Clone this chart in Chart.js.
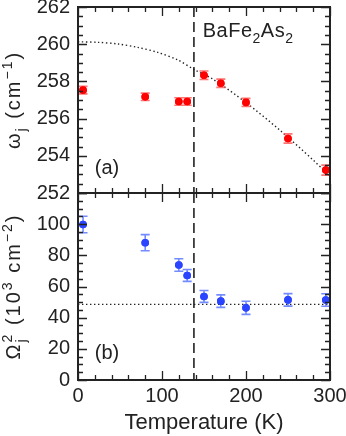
<!DOCTYPE html>
<html>
<head>
<meta charset="utf-8">
<script src="https://cdn.jsdelivr.net/npm/chart.js@4/dist/chart.umd.min.js"></script>
<style>
  html, body { margin: 0; padding: 0; background: #fff; }
  #wrap { position: relative; width: 346px; height: 436px; }
  canvas { position: absolute; left: 0; top: 0; }
</style>
</head>
<body>
<div id="wrap">
  <canvas id="cTop" width="346" height="436"></canvas>
  <canvas id="cBot" width="346" height="436"></canvas>
</div>
<script>
// ---------- data ----------
const temperatures = [6, 80, 120, 130, 150, 170, 200, 250, 295];
const omegaJ      = [257.53, 257.17, 256.92, 256.92, 258.33, 257.90, 256.87, 254.93, 253.23];
const omegaJErr   = [0.20, 0.20, 0.20, 0.20, 0.23, 0.22, 0.22, 0.25, 0.27];
const omega2J     = [99.8, 88.1, 73.8, 67.1, 53.6, 50.6, 46.3, 51.4, 51.3];
const omega2JErr  = [5.3, 5.2, 4.0, 3.8, 3.8, 4.0, 4.2, 4.0, 4.0];
const fitT        = [0, 24, 48, 71, 95, 119, 139, 161, 200, 240, 280, 300];
const fitOmega    = [260.13, 260.10, 260.01, 259.83, 259.56, 259.15, 258.62, 258.11, 256.86, 255.39, 253.77, 252.90];
const refT        = [0, 300];
const refOmega2   = [48.5, 48.5];
const transitionT = 138;
const xRange = [0, 300], xMajor = 100, xMinor = 20;
const yTopRange = [252, 262], yTopMajor = 2, yTopMinor = 0.5;
const yBotRange = [0, 120], yBotMajor = 20, yBotMinor = 5;
const xTitle = 'Temperature (K)';
const compound = [{t:'BaFe'},{t:'2',sub:true},{t:'As'},{t:'2',sub:true}];
const titleTop = [{t:'ω'},{t:'j',sub:true},{t:' (cm'},{t:'−1',sup:true},{t:')'}];
const titleBot = [{t:'Ω'},{t:'2',sup:true,noAdv:true},{t:'j',sub:true},{t:' (10'},{t:'3',sup:true},{t:' cm'},{t:'−2',sup:true},{t:')'}];
const labelA = {text:'(a)', x:20, y:253.34};
const labelB = {text:'(b)', x:20, y:17.3};
const compoundPos = {x:148.5, y:260.39};

const FONT = 'Liberation Sans, Arial, sans-serif';
const INK = '#222';

function pts(xs, ys){ return xs.map((v,i)=>({x:v, y:ys[i]})); }

function drawRich(ctx, segs, x, y, rot, size, spacing, align){
  ctx.save();
  ctx.translate(x, y);
  ctx.rotate(rot);
  ctx.letterSpacing = spacing + 'px';
  ctx.textBaseline = 'alphabetic';
  ctx.textAlign = 'left';
  ctx.fillStyle = INK;
  const small = Math.round(size*0.68);
  let total = 0, pend = 0;
  const widths = segs.map(s=>{
    ctx.font = (s.sub||s.sup ? small : size) + 'px ' + FONT;
    return ctx.measureText(s.t).width;
  });
  segs.forEach((s,i)=>{
    if (s.noAdv) { pend = Math.max(pend, widths[i]); }
    else { total += Math.max(pend, widths[i]); pend = 0; }
  });
  let cx = align === 'center' ? -total/2 : 0;
  pend = 0;
  segs.forEach((s,i)=>{
    ctx.font = (s.sub||s.sup ? small : size) + 'px ' + FONT;
    const dy = s.sub ? size*0.28 : (s.sup ? -size*0.42 : 0);
    ctx.fillText(s.t, cx, dy);
    if (s.noAdv) { pend = Math.max(pend, widths[i]); }
    else { cx += Math.max(pend, widths[i]); pend = 0; }
  });
  ctx.restore();
}

function framePlugin(yMajor, yMinor){
  return {
    id: 'frameTicks',
    afterDraw(chart){
      const {ctx, chartArea:a, scales:{x, y}} = chart;
      ctx.save();
      ctx.strokeStyle = INK;
      ctx.lineWidth = 1.3;
      ctx.beginPath();
      for (let v = xRange[0]; v <= xRange[1] + 1e-9; v += xMinor){
        const len = (Math.abs(v % xMajor) < 1e-9) ? 9 : 5;
        const px = Math.round(x.getPixelForValue(v)) + 0.5;
        ctx.moveTo(px, a.top); ctx.lineTo(px, a.top + len);
        ctx.moveTo(px, a.bottom); ctx.lineTo(px, a.bottom - len);
      }
      const yMin = y.min, yMax = y.max;
      for (let v = yMin; v <= yMax + 1e-9; v += yMinor){
        const r = (v - yMin) / yMajor;
        const len = (Math.abs(r - Math.round(r)) < 1e-6) ? 9 : 5;
        const py = Math.round(y.getPixelForValue(v)) + 0.5;
        ctx.moveTo(a.left, py); ctx.lineTo(a.left + len, py);
        ctx.moveTo(a.right, py); ctx.lineTo(a.right - len, py);
      }
      ctx.stroke();
      ctx.lineWidth = 2;
      ctx.strokeRect(a.left, a.top, a.right - a.left, a.bottom - a.top);
      ctx.restore();
    }
  };
}

const vlinePlugin = {
  id: 'vline',
  beforeDatasetsDraw(chart){
    const {ctx, chartArea:a, scales:{x}} = chart;
    const px = x.getPixelForValue(transitionT);
    ctx.save();
    ctx.strokeStyle = INK;
    ctx.lineWidth = 1.6;
    ctx.setLineDash([10, 5]);
    ctx.beginPath(); ctx.moveTo(px, a.top); ctx.lineTo(px, a.bottom); ctx.stroke();
    ctx.restore();
  }
};

const errorBarPlugin = {
  id: 'errorBars',
  afterDatasetsDraw(chart){
    const {ctx, scales:{x, y}} = chart;
    chart.data.datasets.forEach((ds, di)=>{
      if (!ds.errors) return;
      ctx.save();
      ctx.strokeStyle = ds.errColor;
      ctx.lineWidth = 1.6;
      ctx.beginPath();
      ds.data.forEach((p,i)=>{
        const px = x.getPixelForValue(p.x);
        const y1 = y.getPixelForValue(p.y - ds.errors[i]);
        const y2 = y.getPixelForValue(p.y + ds.errors[i]);
        ctx.moveTo(px, y1); ctx.lineTo(px, y2);
        ctx.moveTo(px-4.5, y1); ctx.lineTo(px+4.5, y1);
        ctx.moveTo(px-4.5, y2); ctx.lineTo(px+4.5, y2);
      });
      ctx.stroke();
      ctx.fillStyle = ds.backgroundColor;
      ds.data.forEach(p=>{
        ctx.beginPath();
        ctx.arc(x.getPixelForValue(p.x), y.getPixelForValue(p.y), ds.pointRadius, 0, Math.PI*2);
        ctx.fill();
      });
      ctx.restore();
    });
  }
};

function textPlugin(kind){
  return {
    id: 'texts',
    afterDraw(chart){
      const {ctx, chartArea:a, scales:{x, y}} = chart;
      const midY = (a.top + a.bottom)/2;
      if (kind === 'top'){
        drawRich(ctx, titleTop, 20, midY, -Math.PI/2, 20, 2, 'center');
        drawRich(ctx, compound, x.getPixelForValue(compoundPos.x), y.getPixelForValue(compoundPos.y), 0, 20, 0.5, 'left');
        ctx.save(); ctx.font = '20px ' + FONT; ctx.fillStyle = INK; ctx.textBaseline = 'middle';
        ctx.fillText(labelA.text, x.getPixelForValue(labelA.x), y.getPixelForValue(labelA.y));
        ctx.restore();
      } else {
        drawRich(ctx, titleBot, 20, midY, -Math.PI/2, 20, 2, 'center');
        ctx.save(); ctx.font = '20px ' + FONT; ctx.fillStyle = INK; ctx.textBaseline = 'middle';
        ctx.fillText(labelB.text, x.getPixelForValue(labelB.x), y.getPixelForValue(labelB.y));
        ctx.restore();
      }
    }
  };
}

function zeroPad(s){ s.paddingTop = 0; s.paddingBottom = 0; s.paddingLeft = 0; s.paddingRight = 0; }

const tickFont = {family: FONT, size: 20};
const noGrid = { display: false, drawTicks: false, tickLength: 0 };

new Chart(document.getElementById('cTop'), {
  type: 'scatter',
  data: { datasets: [
    { data: pts(fitT, fitOmega), showLine: true, borderColor: INK, borderWidth: 1.4,
      borderDash: [1.4, 2.6], pointRadius: 0, tension: 0.3, fill: false },
    { data: pts(temperatures, omegaJ), pointRadius: 3.8, backgroundColor: '#ff0000',
      borderWidth: 0, errors: omegaJErr, errColor: 'rgba(255,80,80,0.8)' }
  ]},
  options: {
    responsive: false, animation: false, devicePixelRatio: 1,
    layout: { padding: { top: 7, right: 16, bottom: 243, left: 0 } },
    plugins: { legend: { display: false }, tooltip: { enabled: false } },
    scales: {
      x: { type: 'linear', min: xRange[0], max: xRange[1], display: false, afterFit: zeroPad },
      y: { type: 'linear', min: yTopRange[0], max: yTopRange[1],
           ticks: { stepSize: yTopMajor, font: tickFont, color: INK, padding: 8 },
           grid: noGrid, border: { display: false },
           afterFit(s){ s.width = 78; zeroPad(s); } }
    }
  },
  plugins: [vlinePlugin, errorBarPlugin, framePlugin(yTopMajor, yTopMinor), textPlugin('top')]
});

new Chart(document.getElementById('cBot'), {
  type: 'scatter',
  data: { datasets: [
    { data: pts(refT, refOmega2), showLine: true, borderColor: INK, borderWidth: 1.4,
      borderDash: [1.4, 2.6], pointRadius: 0, fill: false },
    { data: pts(temperatures, omega2J), pointRadius: 3.8, backgroundColor: '#2a44ff',
      borderWidth: 0, errors: omega2JErr, errColor: 'rgba(80,110,255,0.8)' }
  ]},
  options: {
    responsive: false, animation: false, devicePixelRatio: 1,
    layout: { padding: { top: 193, right: 16, bottom: 0, left: 0 } },
    plugins: { legend: { display: false }, tooltip: { enabled: false } },
    scales: {
      x: { type: 'linear', min: xRange[0], max: xRange[1],
           ticks: { stepSize: xMajor, font: tickFont, color: INK, padding: 4, maxRotation: 0 },
           grid: noGrid, border: { display: false },
           title: { display: true, text: xTitle, font: {family: FONT, size: 22}, color: INK, padding: 0 },
           afterFit(s){ s.height = 56; zeroPad(s); } },
      y: { type: 'linear', min: yBotRange[0], max: yBotRange[1],
           ticks: { stepSize: yBotMajor, font: tickFont, color: INK, padding: 8,
                    callback: (v) => (v >= yBotRange[1] ? '' : v) },
           grid: noGrid, border: { display: false },
           afterFit(s){ s.width = 78; zeroPad(s); } }
    }
  },
  plugins: [vlinePlugin, errorBarPlugin, framePlugin(yBotMajor, yBotMinor), textPlugin('bot')]
});
</script>
</body>
</html>
